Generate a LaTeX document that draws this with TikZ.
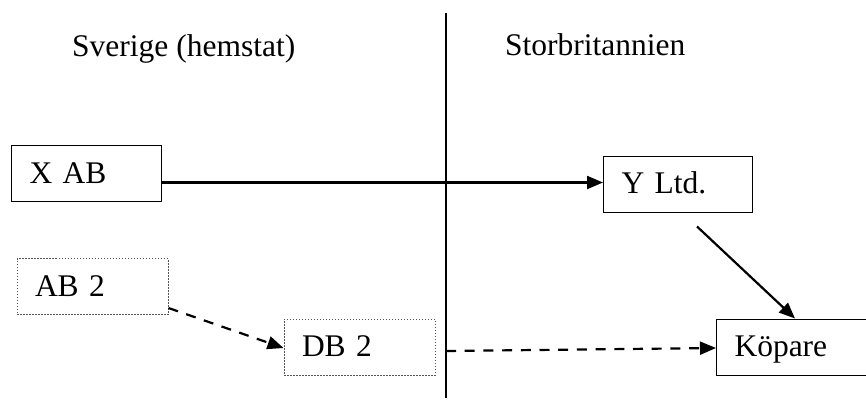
\documentclass[tikz,border=0pt]{standalone}
\usepackage{fontspec}
\setmainfont{Liberation Serif}
\usepackage{tikz}
\usetikzlibrary{arrows.meta,positioning,calc}
\definecolor{ink}{HTML}{000000}
\definecolor{dotline}{HTML}{555555}
\tikzset{
  >={Triangle[length=16pt,width=13pt]},
  flow/.style={->,line width=2.2pt,draw=ink},
  dashflow/.style={flow,dash pattern=on 10pt off 8.7pt},
  box/.style={draw=ink,line width=1pt,inner xsep=18pt,inner ysep=0pt,
    text width=115pt,minimum height=56pt,align=left,
    text height=26pt,text depth=7pt,
    font=\fontsize{31.5}{36}\selectfont},
  dotbox/.style={box,draw=dotline,dash pattern=on 1.5pt off 1.5pt},
  heading/.style={anchor=base west,inner sep=0pt,font=\fontsize{31.5}{36}\selectfont}
}
\begin{document}
\begin{tikzpicture}[x=1pt,y=-1pt]
  \useasboundingbox (0,0) rectangle (866,401);
  % border between the two countries
  \coordinate (top) at (446,13);
  \coordinate (bottom) at (446,398);
  \draw[line width=2pt] (top) -- (bottom);
  \node[heading] (se) at (72,57) {Sverige (hemstat)};
  \node[heading] (uk) at (505,56) {Storbritannien};
  \node[box,text width=114pt] (xab) at (86.5,173.5) {X AB};
  \node[box,text width=113pt] (yltd) at (678,184) {Y Ltd.};
  \node[dotbox] (ab2) at (92.5,286.5) {AB 2};
  \node[dotbox] (db2) at (359.5,347) {DB 2};
  \node[box,text width=117pt] (kopare) at (793,347) {Köpare};
  \draw[flow] ([yshift=-9pt]xab.east) -- ([yshift=-9pt]xab.east -| yltd.west);
  \draw[flow] ([xshift=19pt,yshift=-14pt]yltd.south) -- ([xshift=2pt]kopare.north);
  \draw[dashflow] ([yshift=7pt]ab2.south east) -- ([yshift=-1pt]db2.west);
  \draw[dashflow] ([yshift=-4pt]db2.east -| top) -- ([yshift=-1pt]kopare.west);
\end{tikzpicture}
\end{document}
